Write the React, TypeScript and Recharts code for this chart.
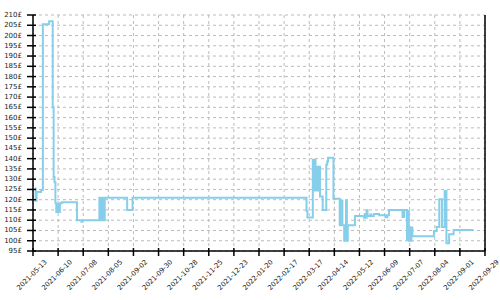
import React from 'react';
import { LineChart, Line, XAxis, YAxis, CartesianGrid, ReferenceLine } from 'recharts';

// tick labels on the time axis (every 28 days)
const tickDates = [
  '2021-05-13', '2021-06-10', '2021-07-08', '2021-08-05', '2021-09-02', '2021-09-30',
  '2021-10-28', '2021-11-25', '2021-12-23', '2022-01-20', '2022-02-17', '2022-03-17',
  '2022-04-14', '2022-05-12', '2022-06-09', '2022-07-07', '2022-08-04', '2022-09-01',
  '2022-09-29',
];

const priceTicks = [95, 100, 105, 110, 115, 120, 125, 130, 135, 140, 145, 150, 155, 160, 165, 170, 175, 180, 185, 190, 195, 200, 205, 210];

// price change dates, same order as prices below
const priceDates = [
  // 2021
  '2021-05-16', '2021-05-16', '2021-05-17', '2021-05-22', '2021-05-24', '2021-05-31', '2021-06-04', '2021-06-05',
  '2021-06-06', '2021-06-07', '2021-06-08', '2021-06-09', '2021-06-09', '2021-06-10', '2021-06-10', '2021-06-11',
  '2021-06-11', '2021-06-12', '2021-06-14', '2021-07-01', '2021-07-06', '2021-07-07', '2021-07-26', '2021-07-27',
  '2021-07-29', '2021-07-30', '2021-08-01', '2021-08-26', '2021-09-01',
  // 2022 march / april
  '2022-03-14', '2022-03-15',
  '2022-03-21', '2022-03-21', '2022-03-22', '2022-03-22', '2022-03-23', '2022-03-23', '2022-03-24', '2022-03-24',
  '2022-03-25', '2022-03-25', '2022-03-26', '2022-03-26', '2022-03-27', '2022-03-27', '2022-03-28', '2022-03-28',
  '2022-03-29', '2022-03-29', '2022-03-30', '2022-04-01', '2022-04-05', '2022-04-06', '2022-04-07', '2022-04-13',
  '2022-04-20', '2022-04-20', '2022-04-21', '2022-04-21', '2022-04-22', '2022-04-22', '2022-04-23', '2022-04-23',
  '2022-04-25', '2022-04-27', '2022-04-27', '2022-04-28', '2022-04-28', '2022-04-29',
  // 2022 may onwards
  '2022-05-07', '2022-05-17', '2022-05-18', '2022-05-19', '2022-05-20', '2022-05-21', '2022-05-24', '2022-05-25',
  '2022-05-28', '2022-06-03', '2022-06-10', '2022-06-12', '2022-06-14', '2022-06-29', '2022-07-01',
  '2022-07-04', '2022-07-04', '2022-07-05', '2022-07-05', '2022-07-06', '2022-07-06', '2022-07-07', '2022-07-08',
  '2022-07-09', '2022-07-10', '2022-08-03', '2022-08-06', '2022-08-09', '2022-08-12', '2022-08-15', '2022-08-17',
  '2022-08-20', '2022-08-25', '2022-09-16',
];

const prices = [
  // 2021
  126, 119.5, 123.8, 124.7, 205.5, 207, 165, 131,
  128.5, 118.3, 114, 118.3, 114, 118.3, 114, 118.3,
  114, 118.3, 118.8, 110, 109.3, 110, 121, 110,
  121, 110, 121, 115, 121,
  // 2022 march / april
  114.5, 111.3,
  140, 124.5, 140, 124.5, 139, 124.5, 140, 124.5,
  136.5, 124.5, 136, 124.5, 136.5, 124.5, 136, 124.5,
  136.5, 121.5, 121.5, 115, 137, 138.6, 140.5, 120.5,
  120, 107.6, 120, 107.6, 119, 107.6, 120, 107.6,
  100, 120, 100, 120, 100, 107.6,
  // 2022 may onwards
  112, 111.2, 113, 111.2, 114.8, 112, 112.8, 112,
  113, 112.4, 111.4, 112.4, 115, 111.6, 115,
  100, 106.5, 100, 106.5, 115, 100, 106.5, 100,
  106.5, 102.2, 104.8, 106.7, 120.2, 106.7, 124.2, 98.8,
  103.2, 105.2, 105.2,
];

const toTime = (d: string) => Date.parse(d + 'T00:00:00Z');

const chartData = priceDates.map((d, i) => ({ time: toTime(d), price: prices[i] }));
const xTicks = tickDates.map(toTime);

const FONT = '"DejaVu Sans", sans-serif';

const XTick = ({ x, y, payload }: any) => {
  const label = new Date(payload.value).toISOString().slice(0, 10);
  const cx = x - 1;
  const cy = y + 24;
  return (
    <g>
      <line x1={x} x2={x} y1={y - 3} y2={y + 5} stroke="#000" strokeWidth={1.5} />
      <text
        x={cx}
        y={cy}
        textAnchor="middle"
        dominantBaseline="central"
        transform={`rotate(-45, ${cx}, ${cy})`}
        fontSize={6.8}
        fontFamily={FONT}
        fill="#222"
      >
        {label}
      </text>
    </g>
  );
};

const YTick = ({ x, y, payload }: any) => (
  <g>
    <line x1={x - 6} x2={x + 3} y1={y} y2={y} stroke="#000" strokeWidth={1.5} />
    <text x={x - 11} y={y} textAnchor="end" dominantBaseline="central" fontSize={7} fontFamily={FONT} fill="#222">
      {payload.value}£
    </text>
  </g>
);

export default function App() {
  return (
    <div style={{ position: 'absolute', left: 0, top: 0, background: '#fff' }}>
      <LineChart width={500} height={300} data={chartData} margin={{ top: 15, right: 15, bottom: 0, left: 0 }}>
        <CartesianGrid strokeDasharray="3 3" stroke="#bbb" />
        <XAxis
          dataKey="time"
          type="number"
          domain={[xTicks[0], xTicks[xTicks.length - 1]]}
          ticks={xTicks}
          interval={0}
          height={49}
          tickSize={0}
          tickMargin={0}
          tickLine={false}
          axisLine={{ stroke: '#000', strokeWidth: 1.5 }}
          tick={<XTick />}
          allowDataOverflow
        />
        <YAxis
          type="number"
          domain={[95, 210]}
          ticks={priceTicks}
          interval={0}
          width={33}
          tickSize={0}
          tickMargin={0}
          tickLine={false}
          axisLine={{ stroke: '#000', strokeWidth: 1.5 }}
          tick={<YTick />}
        />
        <ReferenceLine x={xTicks[xTicks.length - 1]} stroke="#000" strokeWidth={1.5} />
        <Line
          type="stepAfter"
          dataKey="price"
          stroke="#87CEEB"
          strokeWidth={2}
          dot={false}
          isAnimationActive={false}
        />
      </LineChart>
    </div>
  );
}
